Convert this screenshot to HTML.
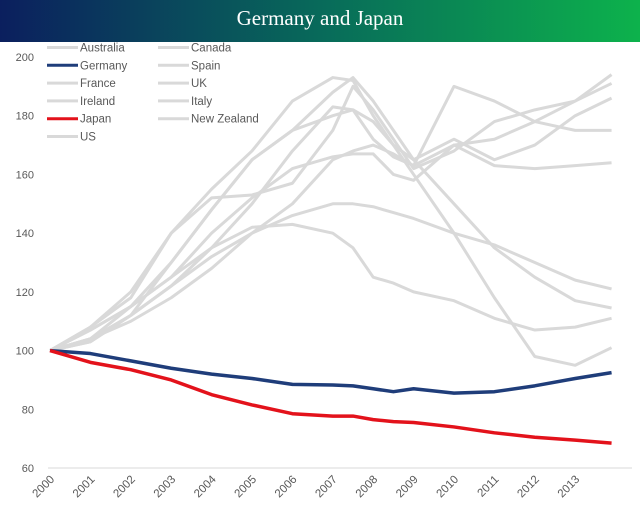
<!DOCTYPE html>
<html><head><meta charset="utf-8"><style>
body{margin:0;width:640px;height:510px;background:#fff;overflow:hidden;font-family:"Liberation Sans",sans-serif}
#hdr{position:absolute;left:0;top:0;width:640px;height:42px;background:linear-gradient(90deg,#0b1f5e,#086a5a 50%,#0db24c);color:#fff;font-family:"Liberation Serif",serif;font-size:21px;text-align:center;line-height:36px}
svg{position:absolute;left:0;top:0}
</style></head><body>
<div id="hdr">Germany and Japan</div>
<svg id="c" width="640" height="510"></svg>
<script>
const years=[2000,2001,2002,2003,2004,2005,2006,2007,2008,2009,2010,2011,2012,2013];
const yTicks=[60,80,100,120,140,160,180,200];
const seriesNames=["Australia","Canada","Germany","Spain","France","UK","Ireland","Italy","Japan","New Zealand","US"];
const tx=[2000,2001,2002,2003,2004,2005,2006,2007,2007.5,2008,2008.5,2009,2010,2011,2012,2013,2013.9];
const australia=[100,103,112,122,135,150,168,183,182,172,166,163,190,185,178,175,175];
const canada=[100,104,110,118,128,140,150,165,168,170,167,163,170,172,178,185,194];
const germany=[100,99,96.5,94,92,90.5,88.5,88.3,88,87,86,87,85.5,86,88,90.5,92.5];
const spain=[100,104,115,130,148,165,175,188,193,185,175,165,150,135,125,117,114.5];
const france=[100,107,115,125,140,152,162,166,167,167,160,158,170,163,162,163,164];
const uk=[100,108,118,140,152,153,157,175,190,182,172,162,168,178,182,185,191];
const ireland=[100,108,120,140,155,168,185,193,192,180,170,160,140,118,98,95,101];
const italy=[100,104,112,122,132,140,146,150,150,149,147,145,140,136,130,124,121];
const japan=[100,96,93.5,90,85,81.5,78.5,77.7,77.7,76.5,75.8,75.5,74,72,70.5,69.5,68.5];
const nz=[100,103,112,130,148,165,175,180,182,178,170,165,172,165,170,180,186];
const us=[100,107,115,125,135,142,143,140,135,125,123,120,117,111,107,108,111];
const grey=[australia,canada,spain,france,uk,ireland,italy,nz,us];
const X=v=>50+(v-2000)*40.4, Y=v=>350.6-(v-100)*2.936;
const s=document.getElementById('c'),NS='http://www.w3.org/2000/svg';
function mk(t,a){const e=document.createElementNS(NS,t);for(const k in a)e.setAttribute(k,a[k]);s.appendChild(e);return e;}
const base=mk('line',{x1:48,x2:632,y1:Y(60),y2:Y(60),stroke:'#d9d9d9'});


yTicks.forEach(t=>{const e=mk('text',{x:34,y:Y(t)+4,'text-anchor':'end','font-size':11,fill:'#595959'});e.textContent=t;

});
years.forEach(yr=>{const x=X(yr);const e=mk('text',{x:x+5,y:480,'text-anchor':'end','font-size':11.5,fill:'#595959',transform:`rotate(-45 ${x+5} 480)`});e.textContent=yr;

});
function line(d,col,w,name){const p=mk('polyline',{points:d.map((v,i)=>X(tx[i])+','+Y(v)).join(' '),fill:'none',stroke:col,'stroke-width':w,'stroke-linejoin':'round'});

}
grey.forEach((d,i)=>line(d,'#d9d9d9',3,'series-grey-'+i));
line(germany,'#1f3d7a',3.5,'series-germany');
line(japan,'#e3121b',3.5,'series-japan');
const leg=[["Australia",0,0,'#d9d9d9'],["Germany",0,1,'#1f3d7a'],["France",0,2,'#d9d9d9'],["Ireland",0,3,'#d9d9d9'],["Japan",0,4,'#e3121b'],["US",0,5,'#d9d9d9'],["Canada",1,0,'#d9d9d9'],["Spain",1,1,'#d9d9d9'],["UK",1,2,'#d9d9d9'],["Italy",1,3,'#d9d9d9'],["New Zealand",1,4,'#d9d9d9']];
leg.forEach(([n,c,r,col])=>{const x0=47+c*111,y0=47+r*17.8;
const l=mk('line',{x1:x0,x2:x0+31,y1:y0+0.5,y2:y0+0.5,stroke:col,'stroke-width':3});


const t=mk('text',{x:x0+33,y:y0+4.5,'font-size':11.5,fill:'#595959'});t.textContent=n;

});
</script>
</body></html>
